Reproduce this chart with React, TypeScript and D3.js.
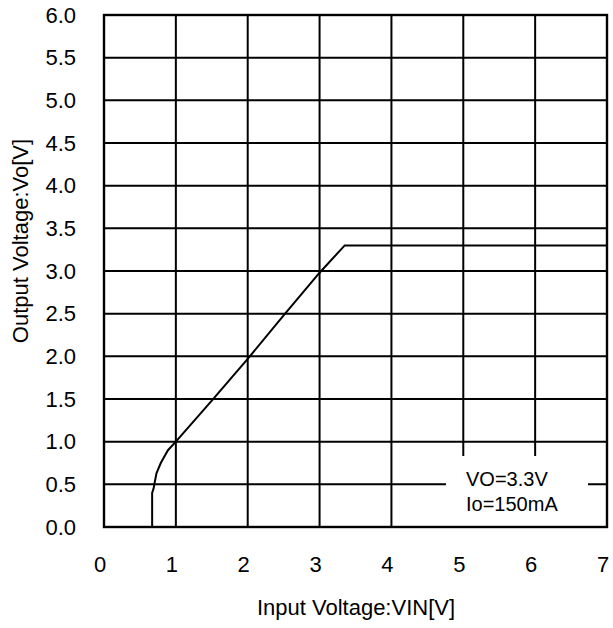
import { useEffect, useRef } from "react";
import * as d3 from "d3";

// measured curve: input voltage vs output voltage
const vinValues = [0, 0.67, 0.67, 0.69, 0.7, 0.73, 0.79, 0.89, 1.0, 1.5, 2.0, 2.5, 3.0, 3.35, 7.0];
const voValues = [0, 0, 0.4, 0.45, 0.5, 0.63, 0.75, 0.9, 1.0, 1.48, 1.97, 2.48, 2.98, 3.3, 3.3];

const xTicks = [0, 1, 2, 3, 4, 5, 6, 7];
const yTicks = [0, 0.5, 1, 1.5, 2, 2.5, 3, 3.5, 4, 4.5, 5, 5.5, 6];
const legendLines = ["VO=3.3V", "Io=150mA"];

const App: React.FC = () => {
  const svgRef = useRef<SVGSVGElement | null>(null);

  useEffect(() => {
    if (!svgRef.current) return;
    const svg = d3.select(svgRef.current);
    svg.selectAll("*").remove();

    const left = 104;
    const right = 607;
    const top = 15;
    const bottom = 527;
    const font = "'Liberation Sans', Arial, sans-serif";

    const x = d3.scaleLinear().domain([0, 7]).range([left, right]);
    const y = d3.scaleLinear().domain([0, 6]).range([bottom, top]);

    svg.append("rect").attr("width", 613).attr("height", 628).attr("fill", "#fff");

    // grid
    const grid = svg.append("g").attr("stroke", "#000").attr("stroke-width", 2);
    grid
      .selectAll("line.v")
      .data(xTicks.slice(1, -1))
      .enter()
      .append("line")
      .attr("x1", (d) => x(d))
      .attr("x2", (d) => x(d))
      .attr("y1", top)
      .attr("y2", bottom);
    grid
      .selectAll("line.h")
      .data(yTicks.slice(1, -1))
      .enter()
      .append("line")
      .attr("x1", left)
      .attr("x2", right)
      .attr("y1", (d) => y(d))
      .attr("y2", (d) => y(d));

    // legend box hides the grid behind it
    const lx0 = 446;
    const lx1 = 588;
    const ly0 = 456;
    svg
      .append("rect")
      .attr("x", lx0)
      .attr("y", ly0)
      .attr("width", lx1 - lx0)
      .attr("height", bottom - ly0)
      .attr("fill", "#fff");
    svg
      .append("g")
      .selectAll("text")
      .data(legendLines)
      .enter()
      .append("text")
      .attr("x", 466)
      .attr("y", (_d, i) => 486 + i * 25)
      .attr("font-family", font)
      .attr("font-size", 20)
      .attr("fill", "#000")
      .text((d) => d);

    // data line
    const line = d3
      .line<number>()
      .x((d) => x(d))
      .y((_d, i) => y(voValues[i]));
    svg
      .append("path")
      .attr("d", line(vinValues) ?? "")
      .attr("fill", "none")
      .attr("stroke", "#000")
      .attr("stroke-width", 2);

    // frame
    svg
      .append("rect")
      .attr("x", left)
      .attr("y", top)
      .attr("width", right - left)
      .attr("height", bottom - top)
      .attr("fill", "none")
      .attr("stroke", "#000")
      .attr("stroke-width", 2.4);

    // tick labels
    svg
      .append("g")
      .selectAll("text")
      .data(xTicks)
      .enter()
      .append("text")
      .attr("x", (d) => x(d) - 4)
      .attr("y", 572)
      .attr("text-anchor", "middle")
      .attr("font-family", font)
      .attr("font-size", 22)
      .text((d) => String(d));
    svg
      .append("g")
      .selectAll("text")
      .data(yTicks)
      .enter()
      .append("text")
      .attr("x", 76)
      .attr("y", (d) => y(d))
      .attr("dy", "0.35em")
      .attr("text-anchor", "end")
      .attr("font-family", font)
      .attr("font-size", 22)
      .text((d) => d.toFixed(1));

    // axis titles
    svg
      .append("text")
      .attr("x", 356)
      .attr("y", 615)
      .attr("text-anchor", "middle")
      .attr("font-family", font)
      .attr("font-size", 22)
      .text("Input Voltage:VIN[V]");
    svg
      .append("text")
      .attr("transform", "translate(28,241) rotate(-90)")
      .attr("text-anchor", "middle")
      .attr("font-family", font)
      .attr("font-size", 22)
      .text("Output Voltage:Vo[V]");
  }, []);

  return (
    <svg
      ref={svgRef}
      width={613}
      height={628}
      style={{ position: "absolute", left: 0, top: 0 }}
    ></svg>
  );
};

export default App;
